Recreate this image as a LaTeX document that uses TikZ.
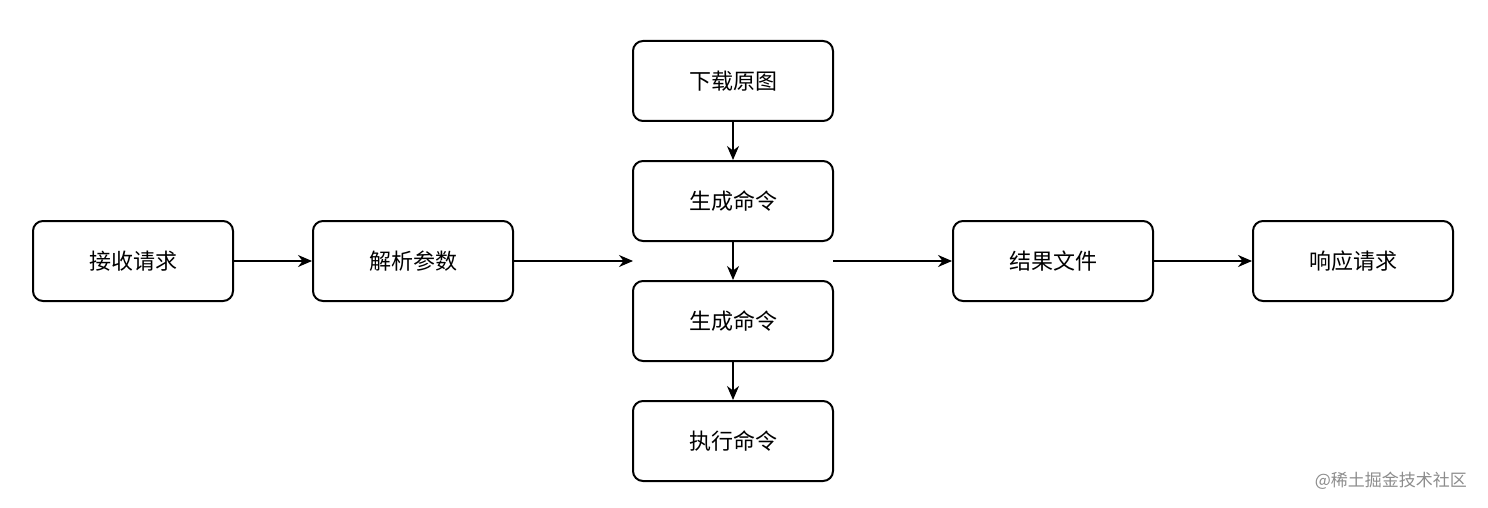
\documentclass[tikz,border=0pt]{standalone}
\usepackage{fontspec}
\setmainfont{Noto Sans CJK SC}
\usetikzlibrary{arrows.meta}
\begin{document}
\begin{tikzpicture}[x=0.5pt,y=-0.5pt,
  box/.style={draw,line width=1pt,rounded corners=5pt,minimum width=100pt,minimum height=40pt,inner sep=0pt,font=\fontsize{11}{13}\selectfont},
  arr/.style={-{Stealth[length=7pt,width=6pt]},line width=0.8pt}]
\useasboundingbox (0,0) rectangle (1488,508);
\node[box] (a) at (133,261) {接收请求};
\node[box] (b) at (413,261) {解析参数};
\node[box] (c1) at (733,81) {下载原图};
\node[box] (c2) at (733,201) {生成命令};
\node[box] (c3) at (733,321) {生成命令};
\node[box] (c4) at (733,441) {执行命令};
\node[box] (d) at (1053,261) {结果文件};
\node[box] (e) at (1353,261) {响应请求};
\coordinate (in) at (633,261);
\coordinate (out) at (833,261);
\draw[arr] (a) -- (b);
\draw[arr] (b) -- (in);
\draw[arr] (c1) -- (c2);
\draw[arr] (c2) -- (c3);
\draw[arr] (c3) -- (c4);
\draw[arr] (out) -- (d);
\draw[arr] (d) -- (e);
\node[text=black!45,font=\fontsize{8.5}{10}\selectfont,anchor=east] (w) at (1474,481) {@稀土掘金技术社区};
\end{tikzpicture}
\end{document}
